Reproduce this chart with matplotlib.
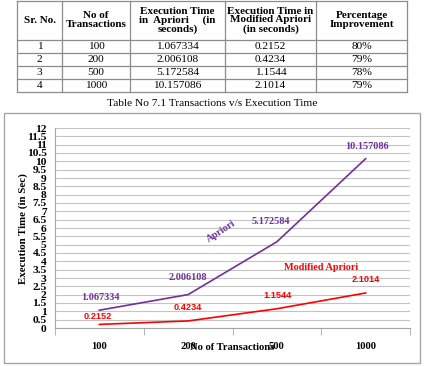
import numpy as np
import matplotlib
matplotlib.use("Agg")
from matplotlib import pyplot as plt
from matplotlib.patches import Rectangle

sr_no = ["1", "2", "3", "4"]
transactions = ["100", "200", "500", "1000"]
apriori = [1.067334, 2.006108, 5.172584, 10.157086]
modified = [0.2152, 0.4234, 1.1544, 2.1014]
improvement = ["80%", "79%", "78%", "79%"]
headers = ["Sr. No.", "No of\nTransactions", "Execution Time\nin  Apriori     (in\nseconds)",
           "Execution Time in\nModified Apriori\n(in seconds)", "Percentage\nImprovement"]
caption = "Table No 7.1 Transactions v/s Execution Time"

purple = "#7030A0"
red = "#FF0000"
serif = "Liberation Serif"

fig = plt.figure(figsize=(4.24, 3.66), dpi=100)

# full figure overlay in pixel coords for the table and the chart frame
bg = fig.add_axes([0, 0, 1, 1])
bg.set_xlim(0, 424)
bg.set_ylim(366, 0)
bg.axis("off")

col_x = [17, 62, 130, 225, 316, 407]
row_y = [0.5, 40, 53, 66, 79, 92]
lc = "#8C8C8C"
for x in col_x:
    bg.plot([x, x], [row_y[0], row_y[-1]], color=lc, lw=0.9)
for y in row_y:
    bg.plot([col_x[0], col_x[-1]], [y, y], color=lc, lw=0.9)

for i, h in enumerate(headers):
    cx = (col_x[i] + col_x[i+1]) / 2
    bg.text(cx, (row_y[0] + row_y[1]) / 2, h, ha="center", va="center",
            family=serif, fontweight="bold", fontsize=8, linespacing=0.95)

rows = list(zip(sr_no, transactions, ["%.6f" % v for v in apriori],
                ["%.4f" % v for v in modified], improvement))
for r, vals in enumerate(rows):
    cy = (row_y[r+1] + row_y[r+2]) / 2
    for i, v in enumerate(vals):
        cx = (col_x[i] + col_x[i+1]) / 2
        bg.text(cx, cy, v, ha="center", va="center", family=serif, fontsize=8.2)

bg.text(212, 103, caption, ha="center", va="center", family=serif, fontsize=8.2)

# chart frame
bg.add_patch(Rectangle((4, 113), 416, 250, fill=False, ec="#A6A6A6", lw=1))

# chart axes
L, R, T, B = 55, 410, 128, 328
ax = fig.add_axes([L/424, (366-B)/366, (R-L)/424, (B-T)/366])
x = np.arange(len(transactions))
ax.plot(x, apriori, color=purple, lw=1.2)
ax.plot(x, modified, color=red, lw=1.2)
ax.set_xlim(-0.5, 3.5)
ax.set_ylim(0, 12)

yt = np.arange(0, 12.01, 0.5)
ax.set_yticks(yt)
ax.set_yticklabels(["%g" % v for v in yt], family=serif, fontweight="bold", fontsize=8.2)
ax.tick_params(axis="y", length=0, pad=6)
ax.yaxis.grid(True, color="#C4C4C4", lw=0.8)
ax.set_axisbelow(True)

ax.set_xticks(x)
ax.set_xticklabels(transactions, family=serif, fontweight="bold", fontsize=7.6)
ax.set_xticks(np.arange(-0.5, 3.6, 1), minor=True)
ax.tick_params(axis="x", which="major", length=0, pad=10)
ax.tick_params(axis="x", which="minor", length=5, color="#A6A6A6", direction="out")

for s in ["top", "right"]:
    ax.spines[s].set_visible(False)
ax.spines["left"].set_color("#A6A6A6")
ax.spines["bottom"].set_color("#A6A6A6")
ax.spines["left"].set_linewidth(0.8)
ax.spines["bottom"].set_linewidth(0.8)

# data labels
ap_off = [(1, 13), (0, 17), (-6, 20), (1, 12)]
for xi, v, off in zip(x, apriori, ap_off):
    ax.annotate("%.6f" % v, (xi, v), xytext=off, textcoords="offset pixels",
                ha="center", va="center", color=purple, family=serif,
                fontweight="bold", fontsize=7.4)
mod_off = [(-2, 8), (0, 13), (1, 13), (0, 13)]
for xi, v, off in zip(x, modified, mod_off):
    ax.annotate("%.4f" % v, (xi, v), xytext=off, textcoords="offset pixels",
                ha="center", va="center", color=red, family="Liberation Sans",
                fontweight="bold", fontsize=6.6)

ax.text(1.37, 5.82, "Apriori", rotation=33, ha="center", va="center", color=purple,
        family=serif, fontweight="bold", fontsize=7.4)
ax.text(2.5, 3.66, "Modified Apriori", ha="center", va="center", color=red,
        family=serif, fontweight="bold", fontsize=7.4)

bg.text(232.5, 348, "No of Transactions", ha="center", va="center",
        family=serif, fontweight="bold", fontsize=7.6)
bg.text(23, 229, "Execution Time (in Sec)", rotation=90, ha="center", va="center",
        family=serif, fontweight="bold", fontsize=7.8)

plt.savefig("out.png", dpi=100)
